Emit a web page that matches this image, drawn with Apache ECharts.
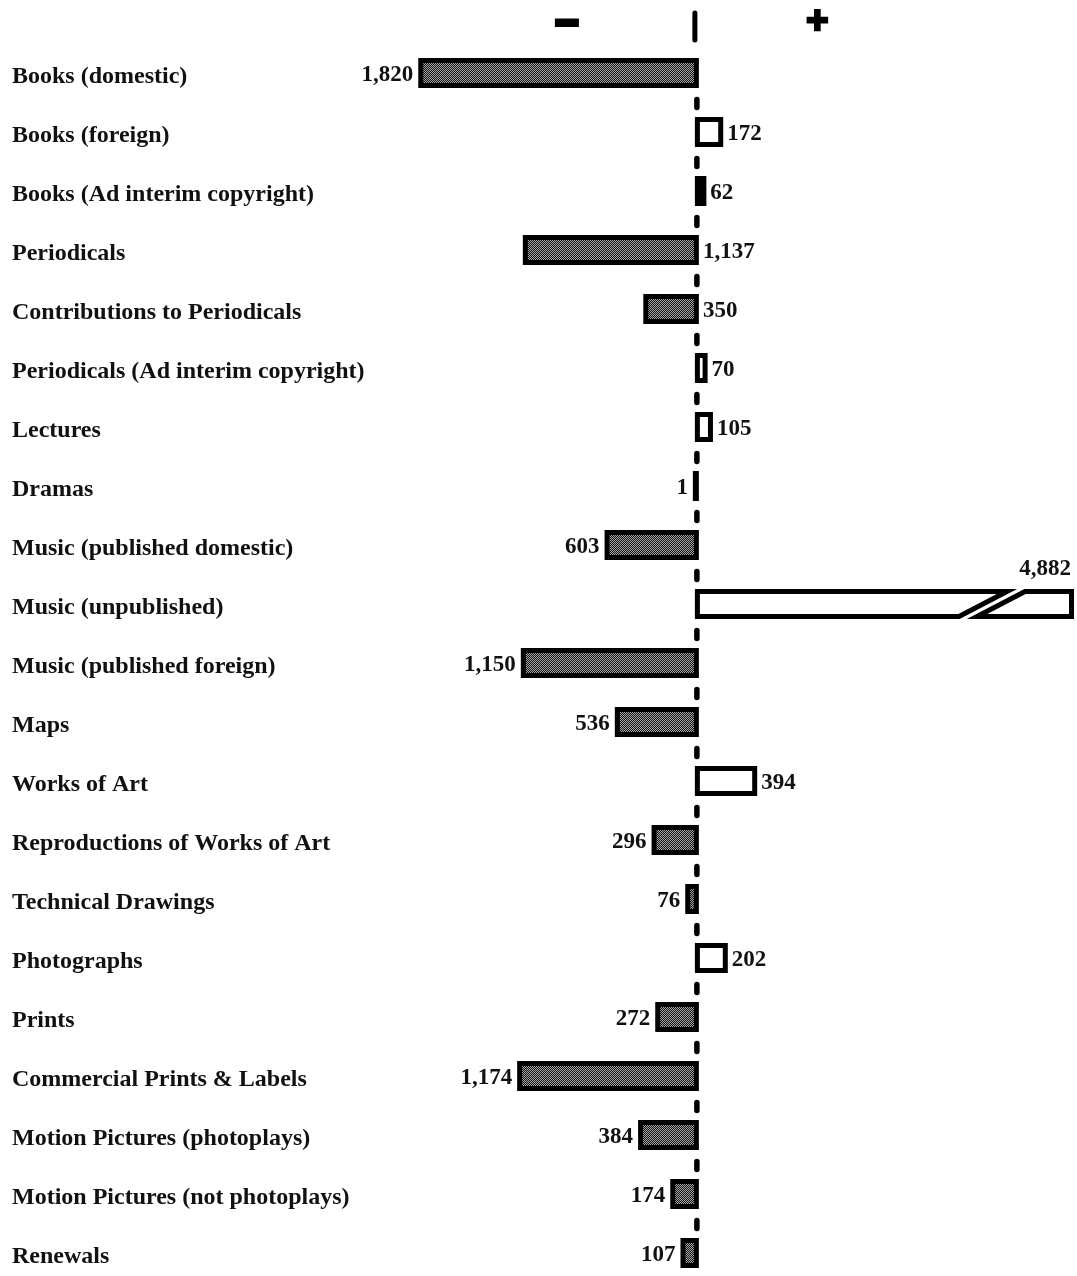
<!DOCTYPE html>
<html><head><meta charset="utf-8">
<script src="https://cdn.jsdelivr.net/npm/echarts@6/dist/echarts.min.js"></script>
<style>html,body{margin:0;padding:0;background:#fff}#c{width:1077px;height:1276px}</style>
</head><body><div id="c"></div>
<script>
// ---- data ----
const categories = [
  'Books (domestic)', 'Books (foreign)', 'Books (Ad interim copyright)', 'Periodicals',
  'Contributions to Periodicals', 'Periodicals (Ad interim copyright)', 'Lectures', 'Dramas',
  'Music (published domestic)', 'Music (unpublished)', 'Music (published foreign)', 'Maps',
  'Works of Art', 'Reproductions of Works of Art', 'Technical Drawings', 'Photographs',
  'Prints', 'Commercial Prints & Labels', 'Motion Pictures (photoplays)',
  'Motion Pictures (not photoplays)', 'Renewals'
];
const changes = [-1820, 172, 62, -1137, -350, 70, 105, -1, -603, 4882, -1150, -536,
  394, -296, -76, 202, -272, -1174, -384, -174, -107];
const labelAfterZero = ['Periodicals', 'Contributions to Periodicals'];
const axisMin = -4500, axisMax = 2470;

// ---- styles ----
const serif = '"Liberation Serif", "DejaVu Serif", serif';
const ink = '#111';
const pat = document.createElement('canvas');
pat.width = 2; pat.height = 2;
const pctx = pat.getContext('2d');
pctx.fillStyle = '#151515'; pctx.fillRect(0, 0, 2, 2);
pctx.fillStyle = '#a6a6a6'; pctx.fillRect(0, 0, 1, 1); pctx.fillRect(1, 1, 1, 1);
const hatch = { image: pat, repeat: 'repeat' };

function txt(text, x, y, align, size) {
  return { type: 'text', style: { text: text, x: x, y: y, align: align, textAlign: align,
    verticalAlign: 'middle', textVerticalAlign: 'middle',
    font: 'bold ' + size + 'px ' + serif, fill: ink } };
}

function renderBar(params, api) {
  const v = api.value(0), i = api.value(1);
  const z = api.coord([0, i]);
  const e = api.coord([Math.min(v, axisMax), i]);
  const cy = z[1];
  const H = 30, B = 5;
  const top = cy - H / 2;
  const kids = [];
  const label = Math.abs(v).toLocaleString('en-US');
  const ly = cy + 2;
  const fs = 23;
  if (v > axisMax) {
    const xs = z[0] - 2, xe = e[0] - 1;
    const xb = xe - 82, half = 24, gap = 9, hb = B / 2;
    kids.push({ type: 'polygon', shape: { points: [
      [xs + hb, top + hb], [xb + half - gap, top + hb], [xb - half - gap, top + H - hb], [xs + hb, top + H - hb]
    ] }, style: { fill: '#fff', stroke: '#000', lineWidth: B, lineJoin: 'miter' } });
    kids.push({ type: 'polygon', shape: { points: [
      [xb + half + gap, top + hb], [xe - hb, top + hb], [xe - hb, top + H - hb], [xb - half + gap, top + H - hb]
    ] }, style: { fill: '#fff', stroke: '#000', lineWidth: B, lineJoin: 'miter' } });
    kids.push(txt(label, xe - 3, top - 20, 'right', fs));
    return { type: 'group', children: kids };
  }
  let x0, x1;
  if (v < 0) { x1 = z[0] + 2; x0 = Math.min(e[0], x1 - 6); }
  else { x0 = z[0] - 2; x1 = Math.max(e[0], x0 + 6); }
  kids.push({ type: 'rect', shape: { x: x0, y: top, width: x1 - x0, height: H }, style: { fill: '#000' } });
  const iw = x1 - x0 - 2 * B;
  if (iw >= 2) {
    kids.push({ type: 'rect', shape: { x: x0 + B, y: top + B, width: iw, height: H - 2 * B },
      style: { fill: v < 0 ? hatch : '#fff' } });
  }
  if (v < 0) {
    if (labelAfterZero.indexOf(categories[i]) >= 0) kids.push(txt(label, z[0] + 6, ly, 'left', fs));
    else kids.push(txt(label, x0 - 5, ly, 'right', fs));
  } else {
    kids.push(txt(label, x1 + 4, ly, 'left', fs));
  }
  return { type: 'group', children: kids };
}

function renderRow(params, api) {
  const i = api.value(1);
  const z = api.coord([0, i]);
  const left = api.coord([axisMin, i])[0];
  const kids = [];
  const n = categories.length;
  kids.push({ type: 'text', style: { text: categories[i], x: left + 4, y: z[1] + 3.5,
    align: 'left', textAlign: 'left', verticalAlign: 'middle', textVerticalAlign: 'middle',
    font: 'bold 24px ' + serif, fill: ink } });
  if (i < n - 1) {
    const next = api.coord([0, i + 1]);
    const my = (z[1] + next[1]) / 2 + 1;
    kids.push({ type: 'line', shape: { x1: z[0], y1: my - 4, x2: z[0], y2: my + 4 },
      style: { stroke: '#000', lineWidth: 5.5, lineCap: 'round' } });
  }
  if (i === 0) {
    kids.push({ type: 'line', shape: { x1: z[0] - 2, y1: z[1] - 60, x2: z[0] - 2, y2: z[1] - 33 },
      style: { stroke: '#000', lineWidth: 5, lineCap: 'round' } });
  }
  return { type: 'group', children: kids };
}

const chart = echarts.init(document.getElementById('c'), null, { renderer: 'canvas' });
chart.setOption({
  backgroundColor: '#fff',
  animation: false,
  grid: { left: 8, right: 2, top: 73, bottom: 23, containLabel: false },
  xAxis: { type: 'value', min: axisMin, max: axisMax, show: false },
  yAxis: {
    type: 'category', data: categories, inverse: true, boundaryGap: false,
    axisLine: { show: false }, axisTick: { show: false }, splitLine: { show: false },
    axisLabel: { show: false }
  },
  graphic: [
    { type: 'text', left: 553, top: 3, style: { text: '\u2212', font: 'bold 40px "Liberation Sans"', fill: '#000', stroke: '#000', lineWidth: 4 } },
    { type: 'text', left: 805, top: 2, style: { text: '+', font: 'bold 38px "Liberation Sans"', fill: '#000', stroke: '#000', lineWidth: 2.5 } }
  ],
  series: [
    { type: 'custom', name: 'rows', z: 1, silent: true, renderItem: renderRow,
      data: categories.map((c, i) => [0, i]) },
    { type: 'custom', name: 'change', z: 2, renderItem: renderBar,
      data: changes.map((v, i) => [v, i]) }
  ]
});
</script></body></html>
